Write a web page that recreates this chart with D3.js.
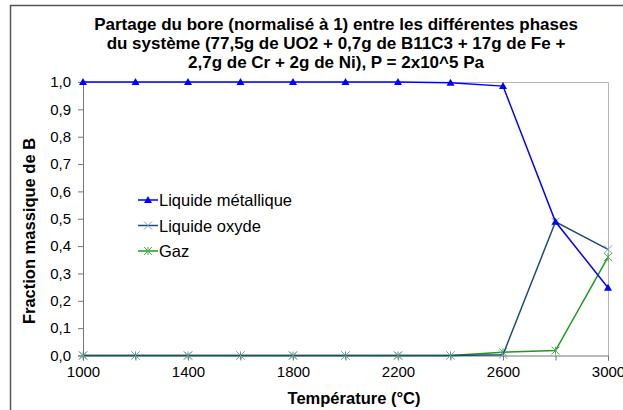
<!DOCTYPE html>
<html>
<head>
<meta charset="utf-8">
<script src="https://cdn.jsdelivr.net/npm/d3@7"></script>
<style>
  html, body { margin: 0; padding: 0; background: #fff; }
  svg { display: block; font-family: "Liberation Sans", Arial, sans-serif; }
</style>
</head>
<body>
<svg id="chart" width="623" height="410"></svg>
<script>
// Températures (°C)
const temperatures = [1000, 1200, 1400, 1600, 1800, 2000, 2200, 2400, 2600, 2800, 3000];
// Fraction massique de B dans chaque phase
const liquideMetallique = [1, 1, 1, 1, 1, 1, 1, 0.997, 0.985, 0.489, 0.248];
const liquideOxyde      = [0, 0, 0, 0, 0, 0, 0, 0, 0.003, 0.489, 0.388];
const gaz               = [0, 0, 0, 0, 0, 0, 0, 0, 0.012, 0.018, 0.36];
const xTickLabels = [1000, 1400, 1800, 2200, 2600, 3000];
const yTickValues = [0, 0.1, 0.2, 0.3, 0.4, 0.5, 0.6, 0.7, 0.8, 0.9, 1.0];
const titleLines = [
  "Partage du bore (normalisé à 1) entre les différentes phases",
  "du système (77,5g de UO2 + 0,7g de B11C3 + 17g de Fe +",
  "2,7g de Cr + 2g de Ni), P = 2x10^5 Pa"
];
const seriesNames = ["Liquide métallique", "Liquide oxyde", "Gaz"];

const series = [
  { name: seriesNames[0], values: liquideMetallique, color: "#0000ff", markColor: "#0000ff", marker: "triangle" },
  { name: seriesNames[1], values: liquideOxyde, color: "#1f4a78", markColor: "#7f9dbd", marker: "x" },
  { name: seriesNames[2], values: gaz, color: "#1f9a1f", markColor: "#4cb04c", marker: "star" }
];

const svg = d3.select("#chart");
const plot = { left: 83, right: 608, top: 82, bottom: 355.5 };

// Outer frame
svg.append("rect")
  .attr("x", 10.5).attr("y", 5.5)
  .attr("width", 640).attr("height", 420)
  .attr("fill", "none").attr("stroke", "#555").attr("stroke-width", 1.5);

const x = d3.scaleLinear().domain([1000, 3000]).range([plot.left, plot.right]);
const y = d3.scaleLinear().domain([0, 1]).range([plot.bottom, plot.top]);

// Plot area border (top and right)
svg.append("path")
  .attr("d", `M${plot.left},${plot.top + 0.5}H${plot.right + 0.5}V${plot.bottom}`)
  .attr("fill", "none").attr("stroke", "#b4b4b4").attr("stroke-width", 1);

// Title
const title = svg.append("text")
  .attr("text-anchor", "middle")
  .attr("font-weight", "bold")
  .attr("font-size", 17)
  .attr("fill", "#000");
titleLines.forEach((t, i) => {
  title.append("tspan").attr("x", 336).attr("y", 29.5 + i * 19.2).text(t);
});

// Y axis
const yAxis = d3.axisLeft(y)
  .tickValues(yTickValues)
  .tickSize(5)
  .tickPadding(7)
  .tickFormat(d => d3.format(".1f")(d).replace(".", ","));
const gy = svg.append("g").attr("transform", `translate(${plot.left},0)`).call(yAxis);
gy.select(".domain").attr("stroke", "#777");
gy.selectAll(".tick line").attr("stroke", "#777");
gy.selectAll(".tick text").attr("font-size", 15).attr("fill", "#000").attr("font-family", "Liberation Sans, Arial, sans-serif");

// X axis
const xAxis = d3.axisBottom(x)
  .tickValues(temperatures)
  .tickSize(5)
  .tickPadding(6)
  .tickFormat(d => xTickLabels.includes(d) ? d : "");
const gx = svg.append("g").attr("transform", `translate(0,${plot.bottom})`).call(xAxis);
gx.select(".domain").attr("stroke", "#777");
gx.selectAll(".tick line").attr("stroke", "#777");
gx.selectAll(".tick text").attr("font-size", 15).attr("fill", "#000").attr("font-family", "Liberation Sans, Arial, sans-serif");

// Axis titles
svg.append("text")
  .attr("x", 354).attr("y", 404)
  .attr("text-anchor", "middle")
  .attr("font-weight", "bold").attr("font-size", 16.5)
  .text("Température (°C)");
svg.append("text")
  .attr("transform", `translate(35,231) rotate(-90)`)
  .attr("text-anchor", "middle")
  .attr("font-weight", "bold").attr("font-size", 16.5)
  .text("Fraction massique de B");

// Marker drawing
function drawMarker(g, type, cx, cy, color) {
  if (type === "triangle") {
    g.append("path")
      .attr("d", `M${cx},${cy - 4}L${cx + 4},${cy + 3}L${cx - 4},${cy + 3}Z`)
      .attr("fill", color);
  } else if (type === "x") {
    g.append("path")
      .attr("d", `M${cx - 4},${cy - 4}L${cx + 4},${cy + 4}M${cx - 4},${cy + 4}L${cx + 4},${cy - 4}`)
      .attr("stroke", color).attr("stroke-width", 1);
  } else {
    g.append("path")
      .attr("d", `M${cx - 4},${cy - 4}L${cx + 4},${cy + 4}M${cx - 4},${cy + 4}L${cx + 4},${cy - 4}M${cx},${cy - 4}V${cy + 4}`)
      .attr("stroke", color).attr("stroke-width", 1);
  }
}

const line = d3.line().x((d, i) => x(temperatures[i])).y(d => y(d));

// Draw series (gas first so metallic liquid stays on top)
[...series].reverse().forEach(s => {
  const g = svg.append("g");
  g.append("path")
    .datum(s.values)
    .attr("d", line)
    .attr("fill", "none")
    .attr("stroke", s.color)
    .attr("stroke-width", 1.5);
  s.values.forEach((v, i) => drawMarker(g, s.marker, x(temperatures[i]), y(v), s.markColor));
});

// Legend
const legend = svg.append("g");
series.forEach((s, i) => {
  const ly = 200 + i * 25.5;
  legend.append("line")
    .attr("x1", 138).attr("x2", 158).attr("y1", ly).attr("y2", ly)
    .attr("stroke", s.color).attr("stroke-width", 1.5);
  drawMarker(legend, s.marker, 148, ly, s.markColor);
  legend.append("text")
    .attr("x", 159).attr("y", ly + 6)
    .attr("font-size", 16.5)
    .text(s.name);
});
</script>
</body>
</html>
